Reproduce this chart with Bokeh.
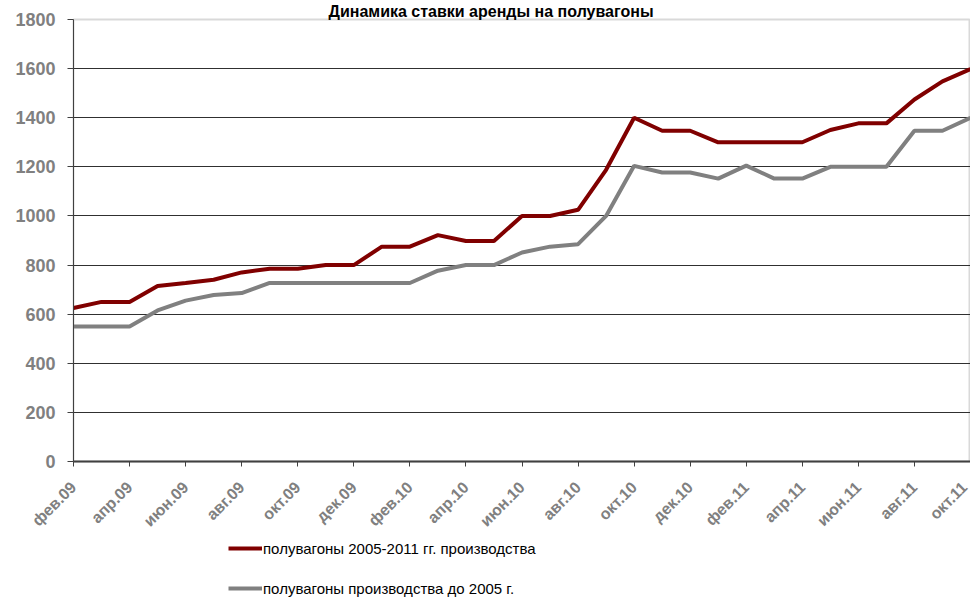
from bokeh.plotting import figure
from bokeh.models import Range1d, FixedTicker, Legend, LegendItem
from bokeh.layouts import column
from bokeh.embed import file_html
from bokeh.resources import INLINE
import math

# ---- data ----
months = ["фев.09", "мар.09", "апр.09", "май.09", "июн.09", "июл.09", "авг.09", "сен.09",
          "окт.09", "ноя.09", "дек.09", "янв.10", "фев.10", "мар.10", "апр.10", "май.10",
          "июн.10", "июл.10", "авг.10", "сен.10", "окт.10", "ноя.10", "дек.10", "янв.11",
          "фев.11", "мар.11", "апр.11", "май.11", "июн.11", "июл.11", "авг.11", "сен.11",
          "окт.11"]
new_wagons = [625, 650, 650, 715, 727, 740, 770, 785, 785, 800, 800, 875, 875, 922, 898, 898,
              1000, 1000, 1025, 1188, 1400, 1347, 1347, 1300, 1300, 1300, 1300, 1350, 1377,
              1377, 1474, 1548, 1598]
old_wagons = [550, 550, 550, 615, 655, 678, 686, 727, 727, 727, 727, 727, 727, 777, 800, 800,
              851, 875, 885, 1000, 1204, 1177, 1177, 1152, 1205, 1152, 1152, 1200, 1200,
              1200, 1347, 1347, 1400]
series_names = ["полувагоны 2005-2011 гг. производства", "полувагоны производства до 2005 г."]
series_colors = ["#800000", "#808080"]
title_text = "Динамика ставки аренды на полувагоны"
y_ticks = [0, 200, 400, 600, 800, 1000, 1200, 1400, 1600, 1800]

x = list(range(len(months)))
tick_idx = x[::2]
tick_labels = {i: months[i] for i in tick_idx}

p = figure(width=970, height=538, output_backend="svg", toolbar_location=None,
           x_range=Range1d(0, 32), y_range=Range1d(0, 1800),
           min_border_left=73, min_border_right=0, min_border_top=17, min_border_bottom=70)
p.background_fill_color = "white"
p.border_fill_color = "white"
p.outline_line_color = "#d9d9d9"
p.outline_line_width = 2

p.title.text = title_text
p.title.align = "left"
p.title.offset = 255
p.title.standoff = 0
p.title.text_line_height = 0.8
p.title.text_font = "Liberation Sans"
p.title.text_font_style = "bold"
p.title.text_font_size = "16px"
p.title.text_color = "black"

p.line(x, new_wagons, line_color=series_colors[0], line_width=4)
p.line(x, old_wagons, line_color=series_colors[1], line_width=4)

# axes
p.yaxis.ticker = FixedTicker(ticks=y_ticks)
p.yaxis.axis_line_color = "#404040"
p.yaxis.major_tick_line_color = "#404040"
p.yaxis.major_tick_out = 6
p.yaxis.major_tick_in = 0
p.yaxis.minor_tick_line_color = None
p.yaxis.major_label_text_font = "Liberation Sans"
p.yaxis.major_label_text_font_style = "bold"
p.yaxis.major_label_text_font_size = "18px"
p.yaxis.major_label_text_color = "#808080"
p.yaxis.major_label_standoff = 12

p.xaxis.ticker = FixedTicker(ticks=tick_idx)
p.xaxis.major_label_overrides = tick_labels
p.xaxis.major_label_orientation = math.pi / 4
p.xaxis.axis_line_color = "#404040"
p.xaxis.axis_line_width = 2
p.xaxis.major_tick_line_color = "#404040"
p.xaxis.major_tick_out = 5
p.xaxis.major_tick_in = 0
p.xaxis.minor_tick_line_color = None
p.xaxis.major_label_text_font = "Liberation Sans"
p.xaxis.major_label_text_font_style = "bold"
p.xaxis.major_label_text_font_size = "16px"
p.xaxis.major_label_text_color = "#808080"
p.xaxis.major_label_standoff = 18

p.xgrid.visible = False
p.ygrid.ticker = FixedTicker(ticks=y_ticks[1:-1])
p.ygrid.grid_line_color = "#303030"
p.ygrid.grid_line_width = 1

# legend panel (its lines fall outside its own range, only the legend shows)
pl = figure(width=970, height=60, output_backend="svg", toolbar_location=None,
            x_axis_type=None, y_axis_type=None, x_range=Range1d(0, 1), y_range=Range1d(0, 1),
            min_border_left=73, min_border_right=0, min_border_top=0, min_border_bottom=0)
pl.outline_line_color = None
pl.grid.visible = False
lr1 = pl.line(x, new_wagons, line_color=series_colors[0], line_width=4)
lr2 = pl.line(x, old_wagons, line_color=series_colors[1], line_width=4)
legend = Legend(items=[LegendItem(label=series_names[0], renderers=[lr1]),
                       LegendItem(label=series_names[1], renderers=[lr2])],
                location=(155, 0), orientation="vertical",
                glyph_width=34, glyph_height=20, label_height=20, spacing=20,
                label_standoff=1, padding=0, margin=0,
                label_text_font="Liberation Sans", label_text_font_size="15px",
                label_text_color="black", background_fill_alpha=0,
                border_line_alpha=0)
pl.add_layout(legend, "center")

layout = column(p, pl, spacing=0)
open("out.html", "w").write(file_html(layout, INLINE))
